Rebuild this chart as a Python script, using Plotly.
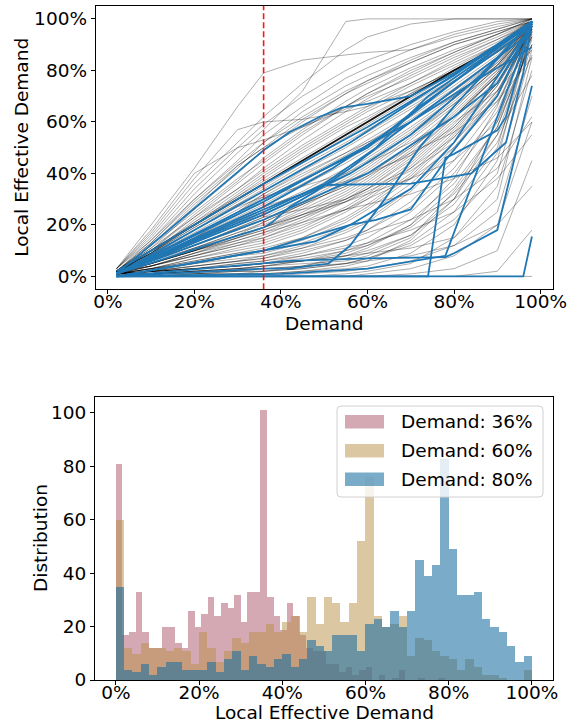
import plotly.graph_objects as go

# ---------------- data: top panel ----------------
GX = [0.02, 0.10, 0.20, 0.30, 0.36, 0.45, 0.55, 0.60, 0.70, 0.80, 0.90, 0.98]

gray_lines = [
    # above the diagonal
    [0.03, 0.20, 0.42, 0.66, 0.79, 0.84, 0.86, 0.87, 0.88, 0.93, 0.97, 1.00],
    [0.03, 0.17, 0.38, 0.57, 0.60, 0.61, 0.64, 0.66, 0.72, 0.80, 0.90, 1.00],
    [0.03, 0.16, 0.36, 0.52, 0.62, 0.75, 0.88, 0.93, 0.98, 1.00, 1.00, 1.00],
    [0.03, 0.14, 0.32, 0.48, 0.57, 0.72, 0.99, 1.00, 1.00, 1.00, 1.00, 1.00],
    [0.02, 0.13, 0.30, 0.45, 0.55, 0.66, 0.77, 0.81, 0.88, 0.94, 0.98, 1.00],
    [0.02, 0.12, 0.28, 0.42, 0.52, 0.64, 0.74, 0.78, 0.85, 0.91, 0.96, 1.00],
    [0.02, 0.11, 0.26, 0.40, 0.49, 0.60, 0.71, 0.76, 0.83, 0.90, 0.95, 0.99],
    [0.02, 0.10, 0.24, 0.37, 0.46, 0.57, 0.68, 0.73, 0.81, 0.88, 0.94, 0.99],
    [0.02, 0.10, 0.23, 0.36, 0.44, 0.55, 0.66, 0.71, 0.80, 0.87, 0.94, 1.00],
    [0.02, 0.09, 0.22, 0.34, 0.42, 0.53, 0.64, 0.69, 0.78, 0.86, 0.93, 0.99],
    [0.02, 0.09, 0.21, 0.33, 0.40, 0.50, 0.60, 0.65, 0.74, 0.82, 0.90, 0.98],
    [0.02, 0.09, 0.20, 0.32, 0.39, 0.49, 0.59, 0.64, 0.72, 0.80, 0.88, 0.97],
    [0.02, 0.09, 0.20, 0.31, 0.38, 0.48, 0.58, 0.62, 0.71, 0.79, 0.87, 0.96],
    [0.03, 0.18, 0.40, 0.50, 0.53, 0.58, 0.65, 0.68, 0.75, 0.83, 0.91, 0.99],
    [0.03, 0.15, 0.34, 0.50, 0.59, 0.70, 0.80, 0.84, 0.90, 0.95, 0.99, 1.00],
    [0.02, 0.12, 0.27, 0.43, 0.50, 0.58, 0.66, 0.70, 0.77, 0.85, 0.92, 0.98],
    [0.02, 0.14, 0.30, 0.44, 0.52, 0.62, 0.72, 0.76, 0.84, 0.91, 0.96, 1.00],
    [0.02, 0.13, 0.29, 0.43, 0.50, 0.61, 0.71, 0.75, 0.83, 0.90, 0.95, 0.99],
    [0.02, 0.12, 0.25, 0.38, 0.45, 0.56, 0.66, 0.71, 0.79, 0.87, 0.94, 1.00],
    [0.02, 0.11, 0.23, 0.34, 0.41, 0.51, 0.61, 0.66, 0.75, 0.84, 0.92, 0.99],
    [0.02, 0.10, 0.21, 0.31, 0.37, 0.46, 0.56, 0.61, 0.71, 0.81, 0.90, 0.99],
    # around / below the diagonal
    [0.02, 0.09, 0.19, 0.29, 0.35, 0.44, 0.54, 0.59, 0.69, 0.79, 0.89, 0.99],
    [0.02, 0.09, 0.19, 0.28, 0.34, 0.43, 0.52, 0.57, 0.67, 0.77, 0.88, 0.98],
    [0.02, 0.08, 0.18, 0.28, 0.33, 0.42, 0.51, 0.56, 0.66, 0.76, 0.87, 0.98],
    [0.02, 0.08, 0.17, 0.26, 0.32, 0.41, 0.50, 0.55, 0.65, 0.76, 0.87, 0.97],
    [0.02, 0.08, 0.16, 0.25, 0.31, 0.39, 0.48, 0.53, 0.63, 0.74, 0.86, 0.98],
    [0.02, 0.08, 0.16, 0.24, 0.30, 0.38, 0.47, 0.52, 0.62, 0.73, 0.85, 0.97],
    [0.02, 0.07, 0.15, 0.24, 0.29, 0.37, 0.46, 0.51, 0.61, 0.72, 0.84, 0.97],
    [0.02, 0.07, 0.15, 0.23, 0.28, 0.36, 0.45, 0.50, 0.60, 0.72, 0.85, 0.98],
    [0.02, 0.07, 0.14, 0.22, 0.27, 0.35, 0.44, 0.49, 0.60, 0.71, 0.84, 0.98],
    [0.02, 0.07, 0.14, 0.21, 0.26, 0.33, 0.42, 0.47, 0.58, 0.70, 0.83, 0.97],
    [0.02, 0.06, 0.13, 0.20, 0.25, 0.32, 0.41, 0.46, 0.57, 0.69, 0.82, 0.97],
    [0.02, 0.06, 0.13, 0.20, 0.24, 0.31, 0.40, 0.45, 0.56, 0.69, 0.83, 0.98],
    [0.02, 0.06, 0.12, 0.19, 0.23, 0.30, 0.39, 0.44, 0.55, 0.67, 0.81, 0.98],
    [0.02, 0.06, 0.12, 0.18, 0.22, 0.29, 0.38, 0.43, 0.55, 0.68, 0.82, 0.96],
    [0.02, 0.05, 0.11, 0.17, 0.21, 0.28, 0.37, 0.42, 0.54, 0.67, 0.81, 0.96],
    [0.02, 0.05, 0.11, 0.17, 0.20, 0.27, 0.36, 0.41, 0.53, 0.66, 0.80, 0.95],
    [0.02, 0.05, 0.10, 0.16, 0.19, 0.25, 0.33, 0.38, 0.50, 0.63, 0.79, 0.97],
    [0.02, 0.05, 0.10, 0.15, 0.18, 0.24, 0.32, 0.37, 0.49, 0.64, 0.80, 0.97],
    [0.01, 0.04, 0.09, 0.14, 0.17, 0.23, 0.31, 0.36, 0.48, 0.62, 0.78, 0.98],
    [0.02, 0.04, 0.09, 0.13, 0.16, 0.22, 0.30, 0.35, 0.47, 0.62, 0.79, 0.98],
    [0.01, 0.04, 0.08, 0.13, 0.15, 0.21, 0.29, 0.34, 0.46, 0.61, 0.78, 0.97],
    [0.02, 0.04, 0.08, 0.12, 0.14, 0.19, 0.27, 0.32, 0.44, 0.59, 0.77, 0.96],
    [0.01, 0.03, 0.07, 0.11, 0.13, 0.18, 0.26, 0.31, 0.43, 0.58, 0.76, 0.95],
    [0.01, 0.03, 0.07, 0.10, 0.12, 0.17, 0.25, 0.30, 0.42, 0.57, 0.75, 0.95],
    [0.01, 0.03, 0.06, 0.09, 0.11, 0.15, 0.22, 0.27, 0.39, 0.55, 0.74, 0.97],
    [0.01, 0.03, 0.06, 0.09, 0.10, 0.14, 0.21, 0.26, 0.38, 0.54, 0.74, 0.96],
    [0.01, 0.03, 0.05, 0.08, 0.10, 0.15, 0.23, 0.28, 0.40, 0.56, 0.75, 0.98],
    [0.01, 0.03, 0.05, 0.08, 0.09, 0.13, 0.19, 0.24, 0.36, 0.52, 0.72, 0.95],
    [0.01, 0.02, 0.05, 0.07, 0.08, 0.12, 0.18, 0.22, 0.34, 0.50, 0.71, 0.97],
    [0.01, 0.02, 0.04, 0.06, 0.07, 0.11, 0.17, 0.21, 0.33, 0.49, 0.70, 0.96],
    [0.01, 0.02, 0.04, 0.06, 0.08, 0.11, 0.15, 0.18, 0.27, 0.42, 0.64, 0.95],
    [0.01, 0.02, 0.03, 0.05, 0.06, 0.09, 0.14, 0.18, 0.29, 0.45, 0.67, 0.93],
    [0.01, 0.02, 0.03, 0.04, 0.05, 0.08, 0.12, 0.15, 0.25, 0.40, 0.62, 0.90],
    [0.01, 0.01, 0.02, 0.03, 0.04, 0.06, 0.10, 0.13, 0.22, 0.36, 0.58, 0.92],
    [0.00, 0.01, 0.02, 0.03, 0.04, 0.06, 0.09, 0.12, 0.20, 0.34, 0.58, 0.94],
    [0.01, 0.05, 0.10, 0.16, 0.19, 0.24, 0.29, 0.32, 0.38, 0.45, 0.60, 0.90],
    [0.01, 0.05, 0.10, 0.16, 0.19, 0.24, 0.30, 0.34, 0.42, 0.54, 0.72, 0.96],
    [0.01, 0.05, 0.10, 0.15, 0.18, 0.23, 0.29, 0.33, 0.41, 0.52, 0.70, 0.96],
    [0.01, 0.04, 0.08, 0.12, 0.15, 0.20, 0.26, 0.30, 0.38, 0.50, 0.68, 0.93],
    [0.01, 0.02, 0.03, 0.04, 0.05, 0.06, 0.08, 0.09, 0.11, 0.15, 0.30, 0.85],
    [0.01, 0.02, 0.03, 0.04, 0.05, 0.06, 0.08, 0.10, 0.16, 0.30, 0.55, 0.93],
    [0.02, 0.07, 0.15, 0.25, 0.32, 0.40, 0.48, 0.52, 0.60, 0.70, 0.82, 0.97],
    [0.02, 0.06, 0.13, 0.22, 0.27, 0.32, 0.37, 0.40, 0.47, 0.58, 0.75, 0.97],
    [0.02, 0.08, 0.18, 0.27, 0.31, 0.35, 0.40, 0.44, 0.52, 0.62, 0.78, 0.94],
    [0.02, 0.06, 0.12, 0.19, 0.23, 0.26, 0.30, 0.34, 0.45, 0.60, 0.72, 0.88],
    [0.01, 0.04, 0.09, 0.15, 0.19, 0.26, 0.34, 0.39, 0.51, 0.65, 0.82, 0.99],
    [0.02, 0.06, 0.11, 0.16, 0.21, 0.28, 0.35, 0.39, 0.48, 0.56, 0.68, 0.85],
    [0.02, 0.06, 0.12, 0.18, 0.22, 0.28, 0.35, 0.40, 0.50, 0.62, 0.78, 0.97],
    # low / late risers
    [0.00, 0.00, 0.00, 0.00, 0.00, 0.00, 0.00, 0.00, 0.00, 0.00, 0.00, 0.00],
    [0.00, 0.00, 0.00, 0.00, 0.00, 0.00, 0.00, 0.00, 0.01, 0.03, 0.10, 0.45],
    [0.00, 0.00, 0.00, 0.00, 0.00, 0.01, 0.02, 0.03, 0.06, 0.12, 0.25, 0.70],
    [0.01, 0.01, 0.01, 0.02, 0.02, 0.03, 0.05, 0.07, 0.12, 0.22, 0.40, 0.88],
    [0.00, 0.00, 0.00, 0.00, 0.00, 0.00, 0.00, 0.01, 0.03, 0.08, 0.20, 0.60],
    [0.01, 0.01, 0.02, 0.02, 0.03, 0.04, 0.07, 0.09, 0.16, 0.28, 0.50, 0.95],
    [0.00, 0.00, 0.00, 0.00, 0.00, 0.00, 0.01, 0.02, 0.05, 0.15, 0.35, 0.80],
    [0.01, 0.02, 0.03, 0.05, 0.06, 0.08, 0.11, 0.13, 0.18, 0.25, 0.38, 0.55],
    [0.01, 0.02, 0.04, 0.06, 0.07, 0.10, 0.14, 0.17, 0.22, 0.30, 0.42, 0.62],
    [0.01, 0.01, 0.02, 0.03, 0.03, 0.04, 0.05, 0.06, 0.08, 0.12, 0.20, 0.35],
    [0.00, 0.00, 0.00, 0.00, 0.00, 0.00, 0.00, 0.00, 0.00, 0.00, 0.02, 0.18],
    [0.02, 0.05, 0.10, 0.14, 0.17, 0.21, 0.26, 0.28, 0.32, 0.38, 0.46, 0.60],
    [0.00, 0.00, 0.01, 0.01, 0.01, 0.02, 0.04, 0.06, 0.14, 0.30, 0.60, 0.98],
    [0.00, 0.01, 0.01, 0.02, 0.02, 0.04, 0.08, 0.11, 0.20, 0.38, 0.66, 0.99],
    [0.01, 0.01, 0.02, 0.03, 0.04, 0.05, 0.06, 0.08, 0.15, 0.33, 0.55, 0.78],
    [0.00, 0.00, 0.00, 0.01, 0.01, 0.02, 0.03, 0.04, 0.09, 0.20, 0.45, 0.97],
    [0.00, 0.00, 0.01, 0.01, 0.02, 0.03, 0.05, 0.07, 0.13, 0.25, 0.48, 0.90],
    [0.01, 0.02, 0.03, 0.04, 0.05, 0.07, 0.10, 0.12, 0.19, 0.32, 0.52, 0.86],
]

diag_line = [0.02, 0.10, 0.20, 0.30, 0.36, 0.45, 0.55, 0.60, 0.70, 0.80, 0.89, 0.99]

blue_x = [
    [0.02, 0.36, 0.42, 0.49, 0.54, 0.60, 0.70, 0.80, 0.98],
    [0.02, 0.36, 0.60, 0.80, 0.98],
    [0.02, 0.36, 0.56, 0.76, 0.98],
    [0.02, 0.36, 0.60, 0.72, 0.98],
    [0.02, 0.36, 0.52, 0.68, 0.98],
    [0.02, 0.36, 0.50, 0.62, 0.74, 0.98],
    [0.02, 0.36, 0.38, 0.42, 0.48, 0.56, 0.66, 0.98],
    [0.02, 0.36, 0.50, 0.70, 0.84, 0.92, 0.96, 0.98],
    [0.02, 0.36, 0.48, 0.56, 0.62, 0.70, 0.78, 0.90, 0.98],
    [0.02, 0.36, 0.42, 0.60, 0.78, 0.80, 0.90, 0.98],
    [0.02, 0.96, 0.98],
    [0.02, 0.74, 0.78, 0.80, 0.90, 0.92, 0.98],
    [0.02, 0.36, 0.42, 0.51, 0.56, 0.64, 0.72, 0.80, 0.98],
    [0.02, 0.36, 0.60, 0.80, 0.90, 0.98],
    [0.02, 0.36, 0.70, 0.84, 0.98],
    [0.02, 0.36, 0.56, 0.70, 0.86, 0.98],
    [0.02, 0.36, 0.56, 0.70, 0.80, 0.98],
    [0.02, 0.40, 0.60, 0.78, 0.98],
]
blue_y = [
    [0.01, 0.49, 0.56, 0.62, 0.655, 0.67, 0.70, 0.79, 0.99],
    [0.02, 0.36, 0.58, 0.78, 0.99],
    [0.01, 0.33, 0.52, 0.74, 0.98],
    [0.01, 0.30, 0.50, 0.66, 0.97],
    [0.01, 0.27, 0.42, 0.60, 0.99],
    [0.01, 0.25, 0.36, 0.50, 0.70, 0.98],
    [0.01, 0.19, 0.21, 0.27, 0.33, 0.42, 0.55, 0.95],
    [0.01, 0.26, 0.355, 0.36, 0.40, 0.52, 0.79, 0.99],
    [0.00, 0.10, 0.136, 0.20, 0.22, 0.26, 0.45, 0.70, 0.99],
    [0.00, 0.05, 0.06, 0.07, 0.075, 0.09, 0.18, 0.74],
    [0.00, 0.00, 0.155],
    [0.00, 0.00, 0.46, 0.476, 0.567, 0.62, 0.99],
    [0.00, 0.03, 0.03, 0.05, 0.12, 0.30, 0.50, 0.66, 0.99],
    [0.01, 0.22, 0.40, 0.62, 0.75, 0.97],
    [0.01, 0.29, 0.60, 0.75, 0.89],
    [0.01, 0.24, 0.40, 0.55, 0.78, 0.99],
    [0.00, 0.10, 0.20, 0.34, 0.52, 0.98],
    [0.00, 0.01, 0.03, 0.08, 0.98],
]

marker_demand = 0.36

# ---------------- data: bottom panel ----------------
hist_labels = ["Demand: 36%", "Demand: 60%", "Demand: 80%"]
hist_max = [0.79, 1.0, 1.0]
counts_36 = [81, 17, 18, 33, 18, 12, 12, 20, 20, 14,
             12, 26, 20, 25, 31, 24, 29, 27, 32, 22,
             33, 33, 101, 31, 24, 19, 29, 24, 17, 12,
             11, 11, 6, 6, 3, 5, 2, 4, 5, 0,
             2, 0, 1, 4, 0, 0, 1, 0, 0, 1]
counts_60 = [60, 12, 10, 14, 12, 12, 11, 12, 11, 6,
             18, 12, 7, 11, 16, 14, 18, 18, 21, 18,
             22, 24, 18, 31, 21, 31, 29, 22, 29, 52,
             76, 24, 20, 21, 24, 9, 16, 15, 11, 9,
             8, 4, 8, 5, 2, 2, 1, 0, 0, 4]
counts_80 = [35, 4, 3, 6, 2, 5, 7, 7, 4, 4,
             4, 7, 3, 8, 11, 4, 9, 6, 5, 8,
             10, 5, 8, 15, 13, 11, 17, 17, 17, 11,
             21, 23, 20, 26, 20, 26, 45, 39, 43, 83,
             49, 32, 32, 33, 23, 20, 18, 13, 7, 9]
hist_colors = ["rgba(169,83,103,0.5)", "rgba(185,143,71,0.5)", "rgba(25,110,160,0.58)"]

pct_ticks = [0, 0.2, 0.4, 0.6, 0.8, 1.0]
pct_text = ["0%", "20%", "40%", "60%", "80%", "100%"]
count_ticks = [0, 20, 40, 60, 80, 100]

# ---------------- figure ----------------
W, H = 574, 725
FONT = "DejaVu Sans"
FS = 18.5

def px(x):
    return x / W

def py(y):
    return 1 - y / H

fig = go.Figure()

for ys in gray_lines:
    fig.add_trace(go.Scatter(x=GX, y=ys, mode="lines", xaxis="x", yaxis="y",
                             line=dict(color="rgba(0,0,0,0.32)", width=1),
                             showlegend=False, hoverinfo="skip"))
fig.add_trace(go.Scatter(x=GX, y=diag_line, mode="lines", xaxis="x", yaxis="y",
                         line=dict(color="rgba(0,0,0,0.92)", width=1.8),
                         showlegend=False, hoverinfo="skip"))
for xs, ys in zip(blue_x, blue_y):
    fig.add_trace(go.Scatter(x=xs, y=ys, mode="lines", xaxis="x", yaxis="y",
                             line=dict(color="#1f77b4", width=1.8),
                             showlegend=False, hoverinfo="skip"))

for counts, vmax, col, name in zip([counts_36, counts_60, counts_80], hist_max,
                                   hist_colors, hist_labels):
    n = len(counts)
    w = vmax / n
    centers = [w * (i + 0.5) for i in range(n)]
    fig.add_trace(go.Bar(x=centers, y=counts, width=[w] * n, xaxis="x2", yaxis="y2",
                         marker=dict(color=col, line=dict(width=0)),
                         name=name, showlegend=False, hoverinfo="skip"))

axis_common = dict(showline=True, mirror=True, linecolor="black", linewidth=1,
                   ticks="outside", ticklen=4, tickwidth=1, tickcolor="black",
                   showgrid=False, zeroline=False, automargin=False,
                   tickfont=dict(family=FONT, size=FS, color="black"))

fig.update_layout(
    width=W, height=H, autosize=False,
    margin=dict(l=0, r=0, t=0, b=0, pad=0),
    paper_bgcolor="white", plot_bgcolor="white",
    barmode="overlay", bargap=0, showlegend=False,
    font=dict(family=FONT, size=FS, color="black"),
    xaxis=dict(domain=[px(95.7), px(552.7)], range=[-0.028, 1.028], anchor="y",
               tickvals=pct_ticks, ticktext=pct_text, ticklabelstandoff=-9,
               **axis_common),
    yaxis=dict(domain=[py(289.3), py(6)], range=[-0.05, 1.05], anchor="x",
               tickvals=pct_ticks, ticktext=pct_text,
               **axis_common),
    xaxis2=dict(domain=[px(95), px(552.7)], range=[-0.05, 1.05], anchor="y2",
                tickvals=pct_ticks, ticktext=pct_text, ticklabelstandoff=-8,
                **axis_common),
    yaxis2=dict(domain=[py(680), py(396.7)], range=[0, 106.05], anchor="x2",
                tickvals=count_ticks,
                **axis_common),
)

# axis titles placed as annotations at the reference positions
titles = [
    ("Demand", 324.2, 324, 0, "middle"),
    ("Local Effective Demand", 22, 147.7, -90, "middle"),
    ("Local Effective Demand", 324, 724, 0, "bottom"),
    ("Distribution", 40, 538, -90, "middle"),
]
for text, tx, ty, ang, ya in titles:
    fig.add_annotation(x=px(tx), y=py(ty), xref="paper", yref="paper", text=text,
                       showarrow=False, xanchor="center", yanchor=ya, textangle=ang,
                       borderpad=0,
                       font=dict(family=FONT, size=FS, color="black"))

# vertical marker line at the selected demand
fig.add_shape(type="line", xref="x", yref="y domain", x0=marker_demand, x1=marker_demand,
              y0=0, y1=1, line=dict(color="#f01818", width=1.6, dash="6px,3px"), layer="above")

# manual legend (box, patches, labels)
lx0, ly0, lx1, ly1, r = 337, 406, 543, 497, 4
path = (f"M {px(lx0 + r)},{py(ly0)} L {px(lx1 - r)},{py(ly0)} Q {px(lx1)},{py(ly0)} {px(lx1)},{py(ly0 + r)} "
        f"L {px(lx1)},{py(ly1 - r)} Q {px(lx1)},{py(ly1)} {px(lx1 - r)},{py(ly1)} "
        f"L {px(lx0 + r)},{py(ly1)} Q {px(lx0)},{py(ly1)} {px(lx0)},{py(ly1 - r)} "
        f"L {px(lx0)},{py(ly0 + r)} Q {px(lx0)},{py(ly0)} {px(lx0 + r)},{py(ly0)} Z")
fig.add_shape(type="path", path=path, xref="paper", yref="paper",
              fillcolor="rgba(255,255,255,0.8)", line=dict(color="#d0d0d0", width=1), layer="above")
rows = [421.7, 450.7, 479.3]
for yc, col, name in zip(rows, hist_colors, hist_labels):
    fig.add_shape(type="rect", xref="paper", yref="paper",
                  x0=px(345), x1=px(384), y0=py(yc + 6.7), y1=py(yc - 6.7),
                  fillcolor=col, line=dict(width=0), layer="above")
    fig.add_annotation(x=px(399), y=py(yc), xref="paper", yref="paper", text=name,
                       showarrow=False, xanchor="left", yanchor="middle",
                       font=dict(family=FONT, size=FS, color="black"))

# remove the browser's default page margin so the figure sits at the window origin
fig.write_html("out.html", config={"displayModeBar": False},
               post_script="document.body.style.margin='0';document.body.style.overflow='hidden';"
                           "document.documentElement.style.overflow='hidden';")
